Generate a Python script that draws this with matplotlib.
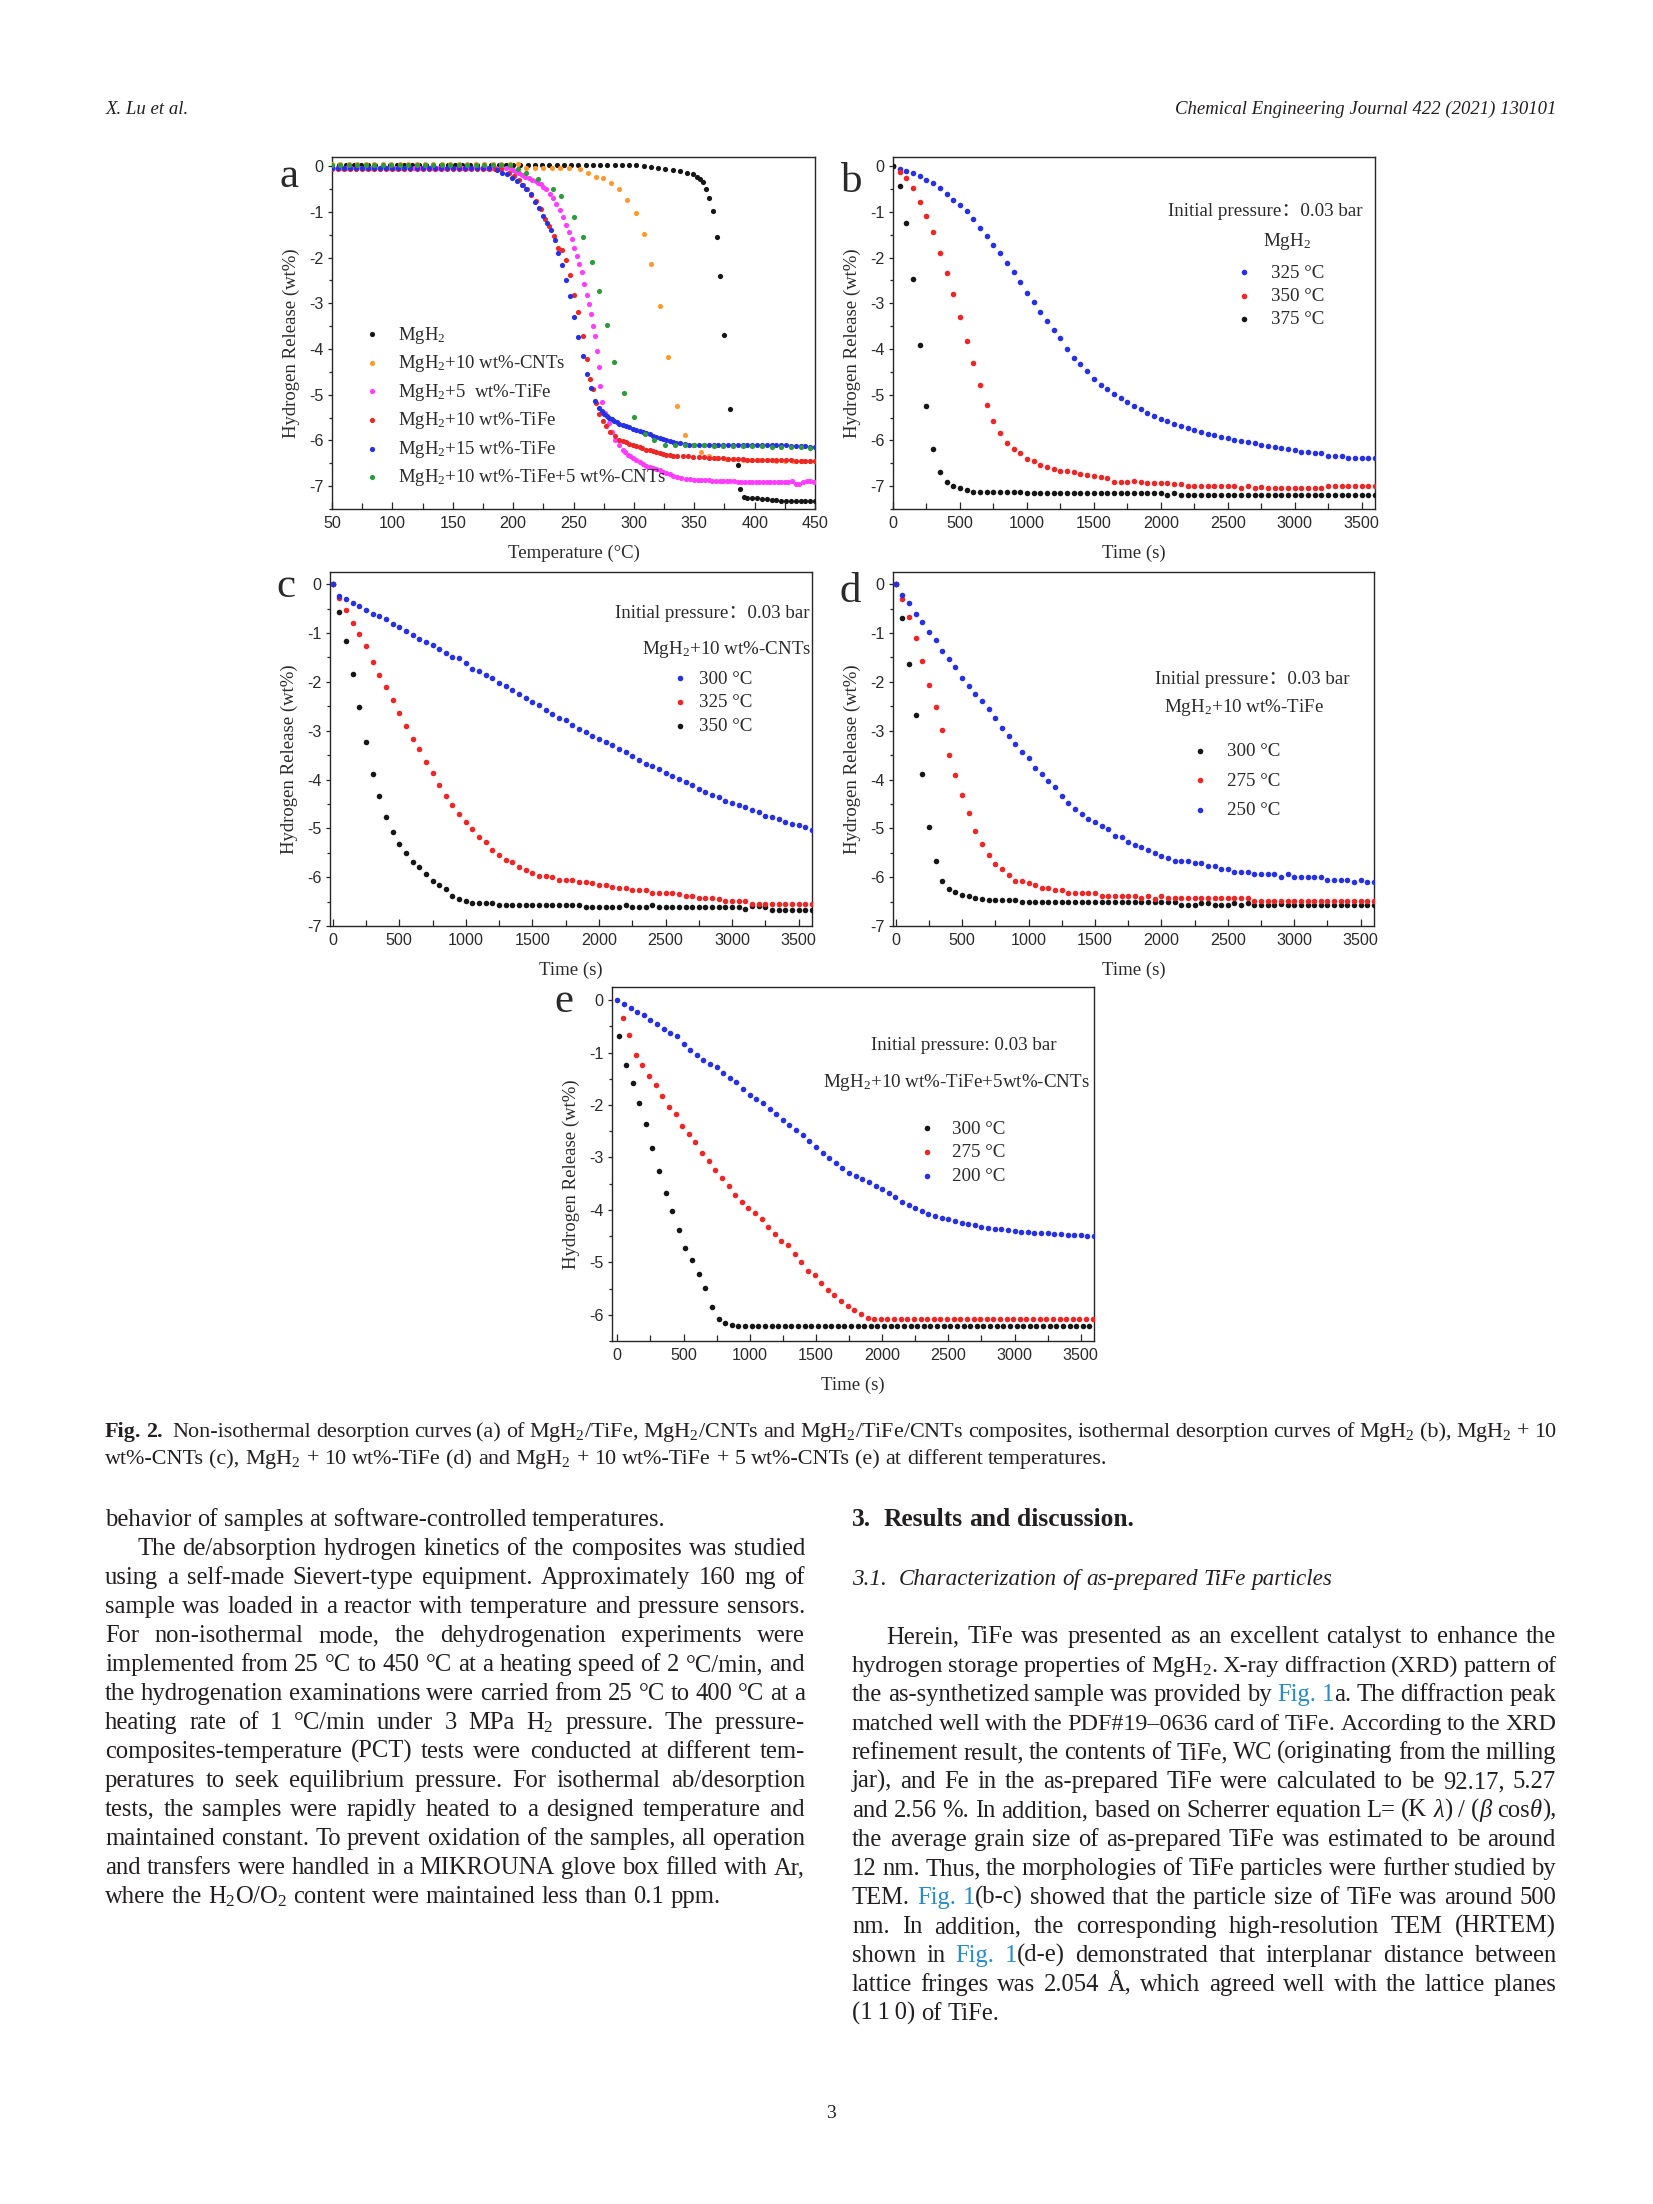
import re
import numpy as np
import matplotlib
matplotlib.use("Agg")
import matplotlib.pyplot as plt
from matplotlib.ticker import MultipleLocator

plt.rcParams['font.family'] = ['Liberation Serif', 'DejaVu Serif']
plt.rcParams['mathtext.fontset'] = 'custom'
plt.rcParams['mathtext.rm'] = 'Liberation Serif'
plt.rcParams['mathtext.it'] = 'Liberation Serif:italic'
plt.rcParams['mathtext.bf'] = 'Liberation Serif:bold'
plt.rcParams['axes.unicode_minus'] = False

# ---------------- data: panel a (temperature °C -> hydrogen release wt%)
A_BLACK_T = np.r_[np.arange(50, 300, 6),
                  [302, 308, 314, 320, 326, 332, 338, 344, 349, 352.5, 355, 357, 359.4, 362.5,
                   365.3, 368.6, 371.4, 374.7, 379.2, 386, 388, 391, 394, 398, 402, 406, 410,
                   414, 418, 422, 426, 430, 434, 438, 442, 446, 450]]
A_BLACK_H = [0.03, 0.03, 0.03, 0.03, 0.03, 0.03, 0.03, 0.03, 0.03, 0.03, 0.03, 0.03, 0.03, 0.03,
             0.03, 0.03, 0.03, 0.03, 0.03, 0.03, 0.03, 0.03, 0.03, 0.03, 0.03, 0.03, 0.03, 0.03,
             0.03, 0.03, 0.03, 0.03, 0.03, 0.03, 0.03, 0.03, 0.03, 0.03, 0.03, 0.03, 0.03, 0.03,
             0.02, 0.0, -0.02, -0.04, -0.06, -0.08, -0.11, -0.14, -0.18, -0.23, -0.28, -0.34,
             -0.49, -0.69, -0.99, -1.54, -2.41, -3.69, -5.32, -6.53, -7.06, -7.24, -7.26, -7.27,
             -7.27, -7.28, -7.28, -7.30, -7.31, -7.32, -7.33, -7.33, -7.33, -7.33, -7.33, -7.33,
             -7.32]

A_ORANGE_T = np.r_[np.arange(50, 250, 7),
                   [255, 262, 268.6, 274.7, 281, 287.5, 294, 301.4, 308, 314.4, 321.4, 328.3,
                    335.8, 342.2, 348.6, 355.6, 362, 369, 376, 383, 390, 397, 404, 411, 418, 425,
                    432, 439, 446, 450]]
A_ORANGE_H = [0.05, 0.05, 0.05, 0.05, 0.05, 0.05, 0.05, 0.05, 0.05, 0.05, 0.05, 0.05, 0.05, 0.05,
              0.05, 0.05, 0.05, 0.05, 0.05, 0.05, 0.05, 0.05, 0.05, -0.05, -0.05, -0.05, -0.05,
              -0.05, -0.05,
              -0.07, -0.14, -0.23, -0.27, -0.37, -0.51, -0.75, -1.02, -1.49, -2.14, -3.07, -4.18,
              -5.25, -5.89, -6.09, -6.25, -6.33, -6.38, -6.40, -6.41, -6.42, -6.42, -6.43, -6.43,
              -6.44, -6.44, -6.44, -6.45, -6.45, -6.45]

A_MAG_T = np.r_[np.arange(50, 198, 4),
                [198, 200, 202, 205, 207.5, 210, 213, 216, 218.6, 220.7, 222.8, 225, 227, 230.3,
                 233, 235.8, 238.6, 241.4, 244, 246.4, 248.6, 250.5, 252.5, 254.7, 256.7, 258.9,
                 260.8, 262.5, 264.4, 266.4, 268, 269.2, 270.8, 272.2, 274, 276.4, 279, 282,
                 284.7, 287.5, 290.8, 293, 295, 297, 299, 302, 304.7, 307.4, 310, 313, 315.8,
                 318.6, 321.4, 324.2, 327, 329.8, 332.5, 336, 339.4, 343, 346.4],
                np.arange(350, 451, 3)]
A_MAG_H = [-0.04, -0.04, -0.04, -0.04, -0.04, -0.04, -0.04, -0.04, -0.04, -0.04, -0.04, -0.04,
           -0.04, -0.04, -0.04, -0.04, -0.04, -0.04, -0.04, -0.04, -0.04, -0.04, -0.04, -0.04,
           -0.04, -0.04, -0.04, -0.04, -0.04, -0.04, -0.04, -0.04, -0.04, -0.04, -0.04, -0.04,
           -0.04,
           -0.06, -0.09, -0.12, -0.16, -0.20, -0.23, -0.26, -0.30, -0.33, -0.36, -0.40, -0.45,
           -0.49, -0.60, -0.69, -0.82, -0.97, -1.11, -1.28, -1.44, -1.60, -1.79, -1.97, -2.14,
           -2.32, -2.57, -2.82, -3.01, -3.23, -3.49, -3.72, -4.04, -4.40, -4.81, -5.17, -5.39,
           -5.61, -5.82, -5.98, -6.11, -6.21, -6.26, -6.31, -6.35, -6.38, -6.43, -6.47, -6.51,
           -6.55, -6.58, -6.60, -6.63, -6.65, -6.68, -6.71, -6.74, -6.77, -6.80, -6.82, -6.84,
           -6.85,
           -6.86, -6.86, -6.87, -6.87, -6.87, -6.88, -6.88, -6.88, -6.88, -6.89, -6.89, -6.89,
           -6.90, -6.90, -6.90, -6.91, -6.91, -6.91, -6.91, -6.91, -6.91, -6.91, -6.91, -6.91,
           -6.91, -6.90, -6.90, -6.89, -6.95, -6.96, -6.92, -6.89, -6.89, -6.90]

A_RED_T = np.r_[np.arange(50, 195, 5),
                [196.4, 200.5, 204.7, 208, 211.7, 215, 219, 222.8, 226.4, 230, 233.9, 237.5,
                 240.3, 243.6, 247, 250.5, 254, 257.5, 260.8, 263.6, 265.8, 269, 271.4, 274.7,
                 277, 280.3, 284, 288, 291, 293.6, 296, 299, 302, 304.7, 307, 310, 313, 315.8,
                 318.6, 321.4, 324, 327, 330, 332.5, 336, 340.8, 344.5, 349],
                np.arange(354, 451, 4)]
A_RED_H = [-0.06, -0.06, -0.06, -0.06, -0.06, -0.06, -0.06, -0.06, -0.06, -0.06, -0.06, -0.06,
           -0.06, -0.06, -0.06, -0.06, -0.06, -0.06, -0.06, -0.06, -0.06, -0.06, -0.06, -0.06,
           -0.06, -0.06, -0.06, -0.06, -0.06,
           -0.14, -0.21, -0.31, -0.42, -0.50, -0.64, -0.77, -0.93, -1.15, -1.31, -1.53, -1.79,
           -1.83, -2.06, -2.39, -2.82, -3.20, -3.72, -4.21, -4.66, -4.88, -5.19, -5.43, -5.57,
           -5.68, -5.82, -5.90, -5.98, -6.01, -6.04, -6.07, -6.09, -6.12, -6.14, -6.17, -6.20,
           -6.22, -6.23, -6.25, -6.27, -6.29, -6.31, -6.32, -6.33, -6.34, -6.34, -6.35, -6.36,
           -6.37, -6.37, -6.38, -6.38, -6.39, -6.39, -6.40, -6.40, -6.41, -6.41, -6.42, -6.42,
           -6.42, -6.42, -6.42, -6.43, -6.43, -6.43, -6.43, -6.43, -6.44, -6.44, -6.44, -6.45,
           -6.45]

A_BLUE_T = np.r_[np.arange(50, 185, 5),
                 [186.7, 190.8, 195, 199, 203, 207, 211, 214.4, 218, 221.4, 224.7, 228.3, 231,
                  234.4, 237.5, 240.3, 244, 247, 250.5, 254, 257.5, 260.8, 264.4, 268, 271.4,
                  273.5, 275.5, 277.5, 279.7, 281.8, 283.9, 286, 288, 290.8, 293.6, 296.3, 299,
                  302, 304.7, 307.4, 310, 313, 315.8, 318.6, 321.4, 324.2, 327, 329.8, 332.5,
                  335.3, 338, 342, 346],
                 np.arange(350, 451, 4)]
A_BLUE_H = [-0.04, -0.04, -0.04, -0.04, -0.04, -0.04, -0.04, -0.04, -0.04, -0.04, -0.04, -0.04,
            -0.04, -0.04, -0.04, -0.04, -0.04, -0.04, -0.04, -0.04, -0.04, -0.04, -0.04, -0.04,
            -0.04, -0.04, -0.04,
            -0.09, -0.14, -0.18, -0.26, -0.33, -0.42, -0.50, -0.62, -0.78, -0.91, -1.08, -1.24,
            -1.40, -1.62, -1.89, -2.16, -2.49, -2.85, -3.29, -3.73, -4.16, -4.54, -4.86, -5.14,
            -5.28, -5.36, -5.43, -5.47, -5.50, -5.54, -5.57, -5.60, -5.63, -5.66, -5.68, -5.71,
            -5.74, -5.77, -5.79, -5.82, -5.84, -5.87, -5.90, -5.92, -5.94, -5.97, -5.99, -6.02,
            -6.04, -6.05, -6.06, -6.08, -6.09,
            -6.09, -6.09, -6.10, -6.10, -6.10, -6.10, -6.10, -6.10, -6.10, -6.10, -6.10, -6.10,
            -6.11, -6.11, -6.11, -6.11, -6.11, -6.11, -6.11, -6.11, -6.12, -6.12, -6.12, -6.13,
            -6.14, -6.14]

A_GREEN_T = np.r_[np.arange(50, 200, 7),
                  [204, 211, 221, 233, 240, 250.5, 258, 265, 271.4, 277.8, 283.3, 291.7, 300,
                   309, 317, 325.5, 334, 342, 350, 358, 366, 374, 382, 390, 398, 406, 414, 422,
                   430, 438, 446]]
A_GREEN_H = [0.02, 0.02, 0.02, 0.02, 0.02, 0.02, 0.02, 0.02, 0.02, 0.02, 0.02, 0.02, 0.02, 0.02,
             0.02, 0.02, 0.02, 0.02, 0.02, 0.02, 0.02, 0.02,
             -0.07, -0.14, -0.29, -0.49, -0.65, -1.11, -1.55, -2.10, -2.74, -3.47, -4.28, -4.97,
             -5.48, -5.87, -5.99, -6.09, -6.10, -6.10, -6.11, -6.11, -6.12, -6.12, -6.12, -6.13,
             -6.13, -6.13, -6.14, -6.14, -6.15, -6.15, -6.16]

A_LABELS = ['MgH$_2$', 'MgH$_2$+10 wt%-CNTs', 'MgH$_2$+5  wt%-TiFe', 'MgH$_2$+10 wt%-TiFe',
            'MgH$_2$+15 wt%-TiFe', 'MgH$_2$+10 wt%-TiFe+5 wt%-CNTs']

# ---------------- data: panels b-e (sampled every 50 s)
B_325 = [0, -0.07, -0.10, -0.15, -0.22, -0.31, -0.37, -0.48, -0.61, -0.74, -0.86, -0.99, -1.16,
         -1.35, -1.52, -1.72, -1.90, -2.12, -2.32, -2.54, -2.78, -2.97, -3.20, -3.39, -3.58,
         -3.77, -4.01, -4.19, -4.32, -4.48, -4.65, -4.78, -4.87, -4.99, -5.07, -5.17, -5.25,
         -5.32, -5.40, -5.46, -5.54, -5.57, -5.63, -5.68, -5.72, -5.78, -5.82, -5.85, -5.89,
         -5.92, -5.95, -5.98, -6.01, -6.04, -6.06, -6.10, -6.12, -6.14, -6.16, -6.18, -6.22,
         -6.25, -6.25, -6.27, -6.28, -6.34, -6.34, -6.34, -6.38, -6.38, -6.38, -6.38, -6.39]
B_350 = [0, -0.13, -0.26, -0.48, -0.79, -1.10, -1.45, -1.89, -2.33, -2.80, -3.29, -3.83, -4.30,
         -4.79, -5.22, -5.58, -5.84, -6.06, -6.18, -6.28, -6.40, -6.46, -6.53, -6.58, -6.63,
         -6.66, -6.66, -6.70, -6.73, -6.75, -6.77, -6.79, -6.83, -6.90, -6.90, -6.90, -6.88,
         -6.92, -6.93, -6.93, -6.93, -6.93, -6.96, -6.96, -7.00, -7.00, -7.00, -7.00, -7.00,
         -7.00, -7.00, -7.00, -7.05, -7.00, -7.05, -7.02, -7.05, -7.05, -7.05, -7.05, -7.05,
         -7.05, -7.05, -7.05, -7.05, -7.00, -7.00, -7.00, -7.00, -7.00, -7.00, -7.00, -7.00]
B_375 = [0, -0.44, -1.24, -2.46, -3.92, -5.25, -6.18, -6.68, -6.90, -6.99, -7.04, -7.08, -7.12,
         -7.12, -7.12, -7.12, -7.12, -7.12, -7.12, -7.12, -7.15, -7.15, -7.15, -7.15, -7.15,
         -7.15, -7.15, -7.15, -7.15, -7.15, -7.15, -7.15, -7.15, -7.15, -7.15, -7.15, -7.15,
         -7.15, -7.15, -7.15, -7.15, -7.20, -7.15, -7.20, -7.20, -7.20, -7.20, -7.20, -7.20,
         -7.20, -7.20, -7.20, -7.20, -7.20, -7.20, -7.20, -7.20, -7.20, -7.20, -7.20, -7.20,
         -7.20, -7.20, -7.20, -7.20, -7.20, -7.20, -7.20, -7.20, -7.20, -7.20, -7.20, -7.20]

C_300 = [0, -0.24, -0.31, -0.38, -0.44, -0.52, -0.60, -0.66, -0.72, -0.81, -0.87, -0.96, -1.05,
         -1.13, -1.18, -1.25, -1.33, -1.40, -1.49, -1.52, -1.61, -1.73, -1.78, -1.85, -1.93,
         -2.02, -2.08, -2.17, -2.24, -2.33, -2.41, -2.48, -2.58, -2.65, -2.74, -2.79, -2.89,
         -2.96, -3.03, -3.10, -3.16, -3.23, -3.30, -3.37, -3.44, -3.51, -3.60, -3.68, -3.73,
         -3.79, -3.86, -3.93, -3.98, -4.05, -4.11, -4.19, -4.26, -4.31, -4.36, -4.43, -4.48,
         -4.53, -4.57, -4.63, -4.67, -4.74, -4.77, -4.81, -4.87, -4.91, -4.93, -4.98, -5.04]
C_325 = [0, -0.29, -0.52, -0.79, -1.01, -1.26, -1.59, -1.85, -2.11, -2.38, -2.64, -2.91, -3.16,
         -3.38, -3.64, -3.86, -4.12, -4.33, -4.53, -4.70, -4.86, -5.01, -5.18, -5.28, -5.44,
         -5.54, -5.64, -5.69, -5.80, -5.86, -5.91, -5.97, -5.97, -6.00, -6.06, -6.06, -6.06,
         -6.10, -6.10, -6.12, -6.17, -6.17, -6.21, -6.22, -6.22, -6.27, -6.27, -6.27, -6.33,
         -6.33, -6.33, -6.33, -6.34, -6.39, -6.39, -6.43, -6.43, -6.43, -6.45, -6.48, -6.48,
         -6.48, -6.48, -6.55, -6.55, -6.55, -6.55, -6.55, -6.55, -6.55, -6.55, -6.55, -6.55]
C_350 = [0, -0.57, -1.17, -1.83, -2.52, -3.23, -3.88, -4.34, -4.77, -5.08, -5.32, -5.50, -5.68,
         -5.80, -5.93, -6.07, -6.16, -6.24, -6.39, -6.45, -6.48, -6.53, -6.53, -6.53, -6.53,
         -6.58, -6.58, -6.58, -6.58, -6.58, -6.58, -6.58, -6.58, -6.58, -6.58, -6.58, -6.58,
         -6.58, -6.62, -6.62, -6.62, -6.62, -6.62, -6.62, -6.58, -6.62, -6.62, -6.62, -6.57,
         -6.62, -6.62, -6.62, -6.62, -6.62, -6.62, -6.62, -6.62, -6.62, -6.62, -6.62, -6.62,
         -6.62, -6.66, -6.60, -6.60, -6.62, -6.68, -6.68, -6.68, -6.68, -6.68, -6.68, -6.68]

D_250 = [0, -0.23, -0.38, -0.60, -0.77, -0.98, -1.15, -1.37, -1.54, -1.70, -1.92, -2.08, -2.24,
         -2.40, -2.56, -2.73, -2.95, -3.11, -3.28, -3.44, -3.56, -3.77, -3.88, -4.04, -4.16,
         -4.33, -4.48, -4.60, -4.70, -4.81, -4.86, -4.96, -5.02, -5.15, -5.18, -5.28, -5.34,
         -5.39, -5.45, -5.50, -5.56, -5.61, -5.66, -5.66, -5.66, -5.71, -5.71, -5.78, -5.78,
         -5.83, -5.83, -5.89, -5.89, -5.89, -5.93, -5.93, -5.93, -5.93, -6.00, -5.93, -6.00,
         -6.00, -6.00, -6.00, -6.00, -6.05, -6.05, -6.05, -6.05, -6.10, -6.05, -6.10, -6.10]
D_275 = [0, -0.31, -0.68, -1.10, -1.58, -2.06, -2.52, -2.99, -3.49, -3.90, -4.31, -4.69, -5.06,
         -5.32, -5.54, -5.74, -5.84, -5.95, -6.07, -6.07, -6.12, -6.16, -6.23, -6.23, -6.27,
         -6.27, -6.33, -6.33, -6.33, -6.33, -6.33, -6.39, -6.39, -6.39, -6.39, -6.39, -6.39,
         -6.43, -6.39, -6.45, -6.39, -6.43, -6.43, -6.43, -6.43, -6.43, -6.43, -6.43, -6.43,
         -6.43, -6.43, -6.43, -6.43, -6.43, -6.48, -6.48, -6.48, -6.48, -6.48, -6.48, -6.48,
         -6.48, -6.48, -6.48, -6.48, -6.48, -6.48, -6.48, -6.48, -6.48, -6.48, -6.48, -6.48]
D_300 = [0, -0.69, -1.63, -2.67, -3.88, -4.98, -5.66, -6.07, -6.24, -6.31, -6.36, -6.38, -6.43,
         -6.45, -6.46, -6.46, -6.46, -6.46, -6.46, -6.51, -6.51, -6.51, -6.51, -6.51, -6.51,
         -6.51, -6.51, -6.51, -6.51, -6.51, -6.51, -6.51, -6.51, -6.51, -6.51, -6.51, -6.51,
         -6.51, -6.51, -6.51, -6.51, -6.51, -6.51, -6.58, -6.58, -6.58, -6.52, -6.52, -6.58,
         -6.58, -6.58, -6.52, -6.58, -6.52, -6.58, -6.58, -6.58, -6.58, -6.55, -6.58, -6.58,
         -6.58, -6.58, -6.58, -6.58, -6.58, -6.58, -6.58, -6.58, -6.58, -6.58, -6.58, -6.58]

E_200 = [0, -0.08, -0.15, -0.22, -0.29, -0.37, -0.46, -0.55, -0.62, -0.68, -0.83, -0.96, -1.04,
         -1.14, -1.22, -1.27, -1.39, -1.49, -1.57, -1.70, -1.80, -1.89, -1.97, -2.08, -2.18,
         -2.28, -2.38, -2.48, -2.57, -2.68, -2.80, -2.91, -3.01, -3.11, -3.20, -3.30, -3.36,
         -3.42, -3.47, -3.54, -3.60, -3.68, -3.75, -3.85, -3.91, -3.97, -4.02, -4.07, -4.11,
         -4.15, -4.18, -4.22, -4.25, -4.27, -4.29, -4.32, -4.34, -4.36, -4.37, -4.39, -4.40,
         -4.42, -4.43, -4.44, -4.45, -4.45, -4.46, -4.46, -4.47, -4.48, -4.48, -4.49, -4.50]
E_275 = [-0.35, -0.66, -1.04, -1.24, -1.45, -1.61, -1.82, -2.04, -2.18, -2.40, -2.56, -2.71,
         -2.92, -3.07, -3.24, -3.39, -3.55, -3.71, -3.85, -3.97, -4.06, -4.18, -4.32, -4.46,
         -4.59, -4.67, -4.84, -5.00, -5.16, -5.25, -5.40, -5.53, -5.62, -5.73, -5.83, -5.90,
         -5.99, -6.06, -6.08, -6.08, -6.08, -6.08, -6.08, -6.08, -6.08, -6.08, -6.08, -6.08,
         -6.08, -6.08, -6.08, -6.08, -6.08, -6.08, -6.08, -6.08, -6.08, -6.08, -6.08, -6.08,
         -6.08, -6.08, -6.08, -6.08, -6.08, -6.08, -6.08, -6.08, -6.08, -6.08, -6.08, -6.08]
E_300 = [-0.68, -1.24, -1.59, -1.97, -2.36, -2.82, -3.25, -3.68, -4.03, -4.38, -4.72, -4.95,
         -5.22, -5.48, -5.86, -6.08, -6.16, -6.19, -6.22, -6.22, -6.22, -6.22, -6.22, -6.22,
         -6.22, -6.22, -6.22, -6.22, -6.22, -6.22, -6.22, -6.22, -6.22, -6.22, -6.22, -6.22,
         -6.22, -6.22, -6.22, -6.22, -6.22, -6.22, -6.22, -6.22, -6.22, -6.22, -6.22, -6.22,
         -6.22, -6.22, -6.22, -6.22, -6.22, -6.22, -6.22, -6.22, -6.22, -6.22, -6.22, -6.22,
         -6.22, -6.22, -6.22, -6.22, -6.22, -6.22, -6.22, -6.22, -6.22, -6.22, -6.22, -6.22]

# colours
K, OR, MG, RD, BL, GR = '#161616', '#ff9a30', '#ff3cff', '#ee2626', '#2630e6', '#2e9a3e'
TXT = '#2a2a2a'
LINK = '#2a8bc9'
INK = '#231f20'

W, H = 1653, 2204
fig = plt.figure(figsize=(W / 100, H / 100), dpi=100)
fig.patch.set_facecolor('white')
REND = fig.canvas.get_renderer()

AX_PX = {'a': (332, 157, 815, 509), 'b': (893, 157, 1375, 509),
         'c': (330, 572, 812, 926), 'd': (893, 572, 1374, 926),
         'e': (612, 987, 1094, 1341)}
PANEL_FS = 13.7
TICK_FS = 11.6
CJK_FAM = ['Liberation Serif', 'Noto Sans CJK SC']


def make_axes(key, xlim, ylim, xmaj, xmin, xlabel):
    l, t, r, b = AX_PX[key]
    ax = fig.add_axes([l / W, 1 - b / H, (r - l) / W, (b - t) / H])
    ax.set_xlim(*xlim)
    ax.set_ylim(*ylim)
    ax.xaxis.set_major_locator(MultipleLocator(xmaj))
    ax.xaxis.set_minor_locator(MultipleLocator(xmin))
    ax.yaxis.set_major_locator(MultipleLocator(1))
    ax.yaxis.set_minor_locator(MultipleLocator(0.5))
    for sp in ax.spines.values():
        sp.set_linewidth(1.0)
        sp.set_color('#262626')
    ax.tick_params(axis='x', which='both', direction='in', top=False, pad=5,
                   labelsize=TICK_FS, labelcolor=TXT, color='#262626', width=0.9,
                   labelfontfamily='Liberation Sans')
    ax.tick_params(axis='x', which='major', length=5)
    ax.tick_params(axis='x', which='minor', length=4)
    ax.tick_params(axis='y', which='both', direction='out', right=False, pad=3,
                   labelsize=TICK_FS, labelcolor=TXT, color='#262626', width=0.9,
                   labelfontfamily='Liberation Sans')
    ax.tick_params(axis='y', which='major', length=3)
    ax.tick_params(axis='y', which='minor', length=2.2)
    ax.set_xlabel(xlabel, fontsize=13.5, color=TXT)
    ax.set_ylabel('Hydrogen Release (wt%)', fontsize=13.5, color=TXT)
    ax.xaxis.label.set_va('center')
    ax.yaxis.label.set_va('center')
    ax.xaxis.set_label_coords(0.5, -0.125)
    ax.yaxis.set_label_coords(-0.085, 0.47)
    return ax


def dots(ax, x, y, color, label, s=16):
    n = min(len(x), len(y))
    return ax.scatter(np.asarray(x)[:n], np.asarray(y)[:n], s=s, c=color, linewidths=0,
                      zorder=3, label=label)


def times(v, t0=0, dt=50):
    return t0 + dt * np.arange(len(v))


def add_legend(ax, key, handles, labels, mx, tx, y_first, y_last, fs=PANEL_FS):
    l, t, r, b = AX_PX[key]
    em = fs * 100 / 72
    hl = 0.8
    htp = (tx - mx) / em - hl / 2
    fx = (mx - hl * em / 2 - l) / (r - l)
    fy = (b - (y_first + y_last) / 2) / (b - t)
    n = len(labels)
    pitch = (y_last - y_first) / (n - 1)
    kw = dict(loc='center left', bbox_to_anchor=(fx, fy), frameon=False, borderpad=0,
              borderaxespad=0, handlelength=hl, handletextpad=htp, handleheight=0.5,
              scatterpoints=1, scatteryoffsets=[0.5],
              prop={'family': 'Liberation Serif', 'size': fs})
    leg = ax.legend(handles, labels, labelspacing=0, **kw)
    row = leg.get_window_extent(REND).height / n
    ls = max((pitch - row) / em, 0)
    leg.remove()
    leg = ax.legend(handles, labels, labelspacing=ls, **kw)
    for tt in leg.get_texts():
        tt.set_color(TXT)
    return leg


def ftext(x, y, s, ha='left', va='center', **kw):
    opts = dict(fontsize=PANEL_FS, color=TXT, fontfamily=CJK_FAM)
    opts.update(kw)
    return fig.text(x / W, 1 - y / H, s, ha=ha, va=va, **opts)


# ---------------- panel a
ax = make_axes('a', (50, 450), (-7.5, 0.2), 50, 25, 'Temperature (°C)')
ha_ = [dots(ax, A_BLACK_T, A_BLACK_H, K, A_LABELS[0], 14),
       dots(ax, A_ORANGE_T, A_ORANGE_H, OR, A_LABELS[1], 14),
       dots(ax, A_MAG_T, A_MAG_H, MG, A_LABELS[2], 14),
       dots(ax, A_RED_T, A_RED_H, RD, A_LABELS[3], 14),
       dots(ax, A_BLUE_T, A_BLUE_H, BL, A_LABELS[4], 14),
       dots(ax, A_GREEN_T, A_GREEN_H, GR, A_LABELS[5], 14)]
add_legend(ax, 'a', ha_, A_LABELS, 372, 398, 335, 478, 13.5)

# ---------------- panel b
ax = make_axes('b', (0, 3600), (-7.5, 0.2), 500, 250, 'Time (s)')
h1 = dots(ax, times(B_325), B_325, BL, '325 °C')
h2 = dots(ax, times(B_350), B_350, RD, '350 °C')
h3 = dots(ax, times(B_375), B_375, K, '375 °C')
add_legend(ax, 'b', [h1, h2, h3], ['325 °C', '350 °C', '375 °C'], 1244, 1271, 273, 320)
ftext(1168, 212, 'Initial pressure：0.03 bar')
ftext(1287, 241, 'MgH$_2$', ha='center')

# ---------------- panel c
ax = make_axes('c', (-20, 3600), (-7.0, 0.25), 500, 250, 'Time (s)')
h3 = dots(ax, times(C_350), C_350, K, '350 °C')
h2 = dots(ax, times(C_325), C_325, RD, '325 °C')
h1 = dots(ax, times(C_300), C_300, BL, '300 °C')
add_legend(ax, 'c', [h1, h2, h3], ['300 °C', '325 °C', '350 °C'], 680, 699, 679, 726.5)
ftext(615, 614, 'Initial pressure：0.03 bar')
ftext(642, 650, 'MgH$_2$+10 wt%-CNTs')

# ---------------- panel d
ax = make_axes('d', (-20, 3600), (-7.0, 0.25), 500, 250, 'Time (s)')
h1 = dots(ax, times(D_300), D_300, K, '300 °C')
h2 = dots(ax, times(D_275), D_275, RD, '275 °C')
h3 = dots(ax, times(D_250), D_250, BL, '250 °C')
add_legend(ax, 'd', [h1, h2, h3], ['300 °C', '275 °C', '250 °C'], 1200, 1227, 751.5, 810.5)
ftext(1155, 679, 'Initial pressure：0.03 bar')
ftext(1164, 708, 'MgH$_2$+10 wt%-TiFe')

# ---------------- panel e
ax = make_axes('e', (-40, 3600), (-6.5, 0.25), 500, 250, 'Time (s)')
h1 = dots(ax, times(E_300, 15), E_300, K, '300 °C')
h2 = dots(ax, times(E_275, 40), E_275, RD, '275 °C')
h3 = dots(ax, times(E_200), E_200, BL, '200 °C')
add_legend(ax, 'e', [h1, h2, h3], ['300 °C', '275 °C', '200 °C'], 927, 952, 1129, 1176.5)
ftext(871, 1045, 'Initial pressure: 0.03 bar')
ftext(823, 1082, 'MgH$_2$+10 wt%-TiFe+5wt%-CNTs')

# panel letters
for letter, x, y in [('a', 289, 187), ('b', 852, 192), ('c', 286, 597),
                     ('d', 850, 602), ('e', 564, 1012)]:
    fig.text(x / W, 1 - y / H, letter, fontsize=31, ha='center', va='baseline',
             color=TXT, fontfamily='Liberation Serif')

# ---------------- page text
BODY = dict(fontfamily=['Liberation Serif', 'DejaVu Serif'], color=INK)
TOKEN = re.compile(r'\[[^\]]*\]|\{[^}]*\}|<[^>]*>|[^\[\{<]+')


def text_w(s, **kw):
    t = fig.text(0, 0, s, **kw)
    w = t.get_window_extent(REND).width
    t.remove()
    return w


def measure_words(s, base):
    parts = []
    for word in s.split(' '):
        ps = []
        for tok in TOKEN.findall(word):
            kw = dict(base)
            if tok[0] == '[':
                kw['color'] = LINK
                tok = tok[1:-1]
            elif tok[0] == '{':
                kw['fontstyle'] = 'italic'
                tok = tok[1:-1]
            elif tok[0] == '<':
                kw['fontweight'] = 'bold'
                tok = tok[1:-1]
            ps.append((tok, kw, text_w(tok, **kw)))
        parts.append(ps)
    return parts


def draw_line(s, x0, x1, ybase, size, justify, extra=None):
    base = dict(BODY, fontsize=size)
    if extra:
        base.update(extra)
    parts = measure_words(s, base)
    widths = [sum(p[2] for p in ps) for ps in parts]
    n = len(parts)
    if justify and n > 1:
        # keep at least a narrow word space: shrink the type slightly if the line is too full
        min_gap = 0.2 * size * 100 / 72
        room = x1 - x0 - (n - 1) * min_gap
        if sum(widths) > room:
            base['fontsize'] = size * room / sum(widths)
            parts = measure_words(s, base)
            widths = [sum(p[2] for p in ps) for ps in parts]
        gap = (x1 - x0 - sum(widths)) / (n - 1)
    else:
        gap = text_w('x x', **base) - text_w('xx', **base)
    x = x0
    for ps in parts:
        for tok, kw, w in ps:
            fig.text(x / W, 1 - ybase / H, tok, ha='left', va='baseline', **kw)
            x += w
        x += gap


# running header
fig.text(106 / W, 1 - 114 / H, 'X. Lu et al.', fontsize=13.5, fontstyle='italic',
         ha='left', va='baseline', **BODY)
fig.text(1556 / W, 1 - 114 / H, 'Chemical Engineering Journal 422 (2021) 130101',
         fontsize=13.5, fontstyle='italic', ha='right', va='baseline', **BODY)

# caption
CAP_FS = 15.9
draw_line('<Fig.> <2.>  Non-isothermal desorption curves (a) of MgH$_2$/TiFe, MgH$_2$/CNTs and '
          'MgH$_2$/TiFe/CNTs composites, isothermal desorption curves of MgH$_2$ (b), '
          'MgH$_2$ + 10', 105, 1556, 1437, CAP_FS, True)
draw_line('wt%-CNTs (c), MgH$_2$ + 10 wt%-TiFe (d) and MgH$_2$ + 10 wt%-TiFe + 5 wt%-CNTs (e) '
          'at different temperatures.', 105, 1556, 1464, CAP_FS, False)

BODY_FS = 17.7
LEFT = [
    ("behavior of samples at software-controlled temperatures.", False, 0),
    ("The de/absorption hydrogen kinetics of the composites was studied", True, 32),
    ("using a self-made Sievert-type equipment. Approximately 160 mg of", True, 0),
    ("sample was loaded in a reactor with temperature and pressure sensors.", True, 0),
    ("For non-isothermal mode, the dehydrogenation experiments were", True, 0),
    ("implemented from 25 °C to 450 °C at a heating speed of 2 °C/min, and", True, 0),
    ("the hydrogenation examinations were carried from 25 °C to 400 °C at a", True, 0),
    ("heating rate of 1 °C/min under 3 MPa H$_2$ pressure. The pressure-", True, 0),
    ("composites-temperature (PCT) tests were conducted at different tem-", True, 0),
    ("peratures to seek equilibrium pressure. For isothermal ab/desorption", True, 0),
    ("tests, the samples were rapidly heated to a designed temperature and", True, 0),
    ("maintained constant. To prevent oxidation of the samples, all operation", True, 0),
    ("and transfers were handled in a MIKROUNA glove box filled with Ar,", True, 0),
    ("where the H$_2$O/O$_2$ content were maintained less than 0.1 ppm.", False, 0),
]
for i, (s, just, ind) in enumerate(LEFT):
    draw_line(s, 105 + ind, 805, 1526 + 29.0 * i, BODY_FS, just)

draw_line('3.  Results and discussion.', 852, 1556, 1526, 18.4, False, {'fontweight': 'bold'})
draw_line('3.1.  Characterization of as-prepared TiFe particles', 852, 1556, 1585, 16.7,
          False, {'fontstyle': 'italic'})

RIGHT = [
    ("Herein, TiFe was presented as an excellent catalyst to enhance the", True, 34),
    ("hydrogen storage properties of MgH$_2$. X-ray diffraction (XRD) pattern of", True, 0),
    ("the as-synthetized sample was provided by [Fig.] [1]a. The diffraction peak", True, 0),
    ("matched well with the PDF#19–0636 card of TiFe. According to the XRD", True, 0),
    ("refinement result, the contents of TiFe, WC (originating from the milling", True, 0),
    ("jar), and Fe in the as-prepared TiFe were calculated to be 92.17, 5.27", True, 0),
    ("and 2.56 %. In addition, based on Scherrer equation L= (K {λ}) / ({β} cos{θ}),", True, 0),
    ("the average grain size of as-prepared TiFe was estimated to be around", True, 0),
    ("12 nm. Thus, the morphologies of TiFe particles were further studied by", True, 0),
    ("TEM. [Fig.] [1](b-c) showed that the particle size of TiFe was around 500", True, 0),
    ("nm. In addition, the corresponding high-resolution TEM (HRTEM)", True, 0),
    ("shown in [Fig.] [1](d-e) demonstrated that interplanar distance between", True, 0),
    ("lattice fringes was 2.054 Å, which agreed well with the lattice planes", True, 0),
    ("(1\u20091\u20090) of TiFe.", False, 0),
]
for i, (s, just, ind) in enumerate(RIGHT):
    draw_line(s, 852 + ind, 1556, 1643 + 29.0 * i, BODY_FS, just)

fig.text(831 / W, 1 - 2118 / H, '3', fontsize=14, ha='center', va='baseline', **BODY)

fig.savefig('out.png', dpi=100, facecolor='white')
